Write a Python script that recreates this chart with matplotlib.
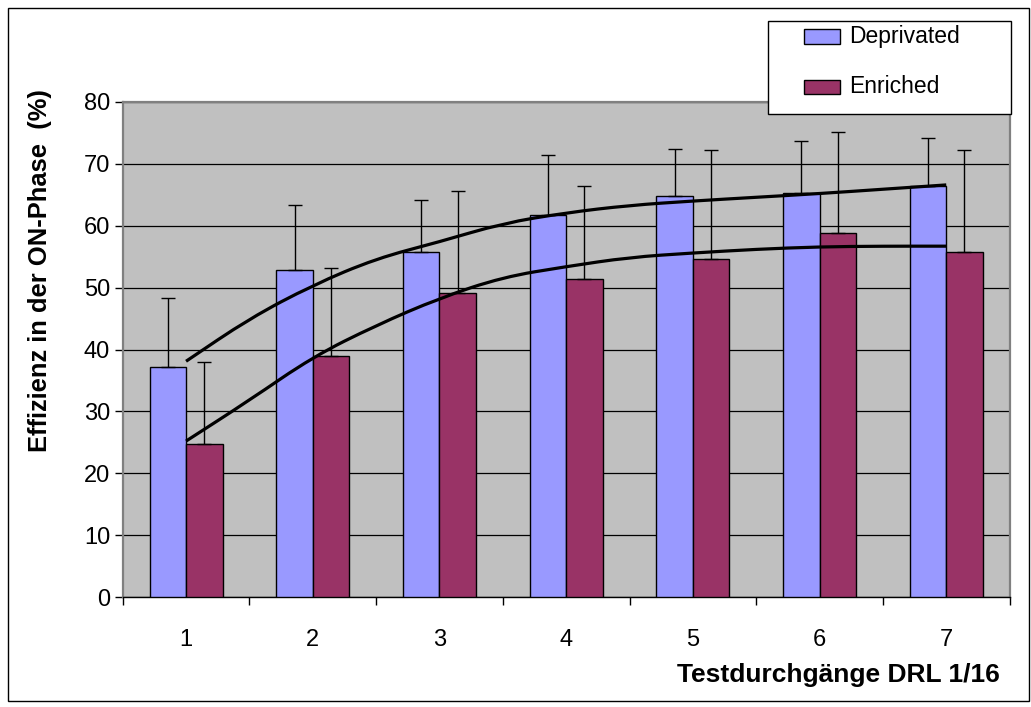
import numpy as np
import matplotlib
matplotlib.use("Agg")
import matplotlib.pyplot as plt
from matplotlib.patches import Rectangle, PathPatch
from matplotlib.path import Path

plt.rcParams['font.family'] = ['Liberation Sans', 'DejaVu Sans']

# ---- data ----
categories = ['1', '2', '3', '4', '5', '6', '7']
deprivated = [37.2, 52.9, 55.7, 61.8, 64.8, 65.3, 66.4]
deprivated_err = [11.2, 10.4, 8.4, 9.7, 7.6, 8.4, 7.8]
enriched = [24.8, 39.0, 49.2, 51.4, 54.7, 58.8, 55.7]
enriched_err = [13.2, 14.2, 16.4, 15.0, 17.5, 16.4, 16.5]
# trend curves at half-category steps (1, 1.5, ..., 7)
trend_x = [1, 1.5, 2, 2.5, 3, 3.5, 4, 4.5, 5, 5.5, 6, 6.5, 7]
trend_dep = [38.1, 45.0, 50.4, 54.7, 57.4, 60.4, 62.1, 63.3, 64.0, 64.6, 65.2, 65.9, 66.6]
trend_enr = [25.2, 31.8, 38.8, 43.9, 48.3, 51.7, 53.4, 54.9, 55.6, 56.2, 56.6, 56.7, 56.7]
yticks = [0, 10, 20, 30, 40, 50, 60, 70, 80]
series_names = ['Deprivated', 'Enriched']
colors = ['#9999FF', '#993366']

W, H = 1031, 707
fig = plt.figure(figsize=(W / 100, H / 100), dpi=100)
fig.patch.set_facecolor('white')

def fx(x):
    return x / W

def fy(y):
    return 1 - y / H

L, R, T, B = 122.7, 1009.6, 102, 597
ax = fig.add_axes([fx(L), fy(B), fx(R - L), (B - T) / H])
ax.set_facecolor('#C0C0C0')

x = np.arange(1, len(categories) + 1)
bw = 0.288
ax.bar(x - bw / 2, deprivated, bw, color=colors[0], edgecolor='black', linewidth=1, zorder=3)
ax.bar(x + bw / 2, enriched, bw, color=colors[1], edgecolor='black', linewidth=1, zorder=3)
ax.errorbar(x - bw / 2, deprivated, yerr=[np.zeros(len(x)), deprivated_err], fmt='none',
            ecolor='black', elinewidth=1, capsize=4.7, capthick=1, zorder=4)
ax.errorbar(x + bw / 2, enriched, yerr=[np.zeros(len(x)), enriched_err], fmt='none',
            ecolor='black', elinewidth=1, capsize=4.7, capthick=1, zorder=4)


def smooth_path(xs, ys):
    pts = list(zip(xs, ys))
    verts = [pts[0]]
    codes = [Path.MOVETO]
    mid = lambda a, b: ((a[0] + b[0]) / 2, (a[1] + b[1]) / 2)
    verts.append(mid(pts[0], pts[1]))
    codes.append(Path.LINETO)
    for i in range(1, len(pts) - 1):
        verts += [pts[i], mid(pts[i], pts[i + 1])]
        codes += [Path.CURVE3, Path.CURVE3]
    verts.append(pts[-1])
    codes.append(Path.LINETO)
    return Path(verts, codes)


for ys in (trend_dep, trend_enr):
    ax.add_patch(PathPatch(smooth_path(trend_x, ys), facecolor='none', edgecolor='black',
                           lw=2.3, zorder=5, capstyle='butt'))

ax.set_xlim(0.5, len(categories) + 0.5)
ax.set_ylim(0, 80)
ax.set_yticks(yticks)
ax.set_yticklabels([str(v) for v in yticks], fontsize=17)
ax.yaxis.grid(True, color='black', linewidth=0.9, zorder=1)
ax.set_axisbelow(True)

ax.set_xticks(np.arange(0.5, len(categories) + 1, 1.0))
ax.set_xticklabels([])
ax.set_xticks(x, minor=True)
ax.set_xticklabels(categories, minor=True, fontsize=17)
ax.tick_params(axis='x', which='major', direction='out', length=6, width=1, color='black')
ax.tick_params(axis='x', which='minor', length=0, pad=23)
ax.tick_params(axis='y', direction='out', length=6, width=1, color='black', pad=3)

for s in ['left', 'top', 'right']:
    ax.spines[s].set_color('#808080')
    ax.spines[s].set_linewidth(1.6)
ax.spines['bottom'].set_color('black')
ax.spines['bottom'].set_linewidth(1)

fig.text(fx(1000), fy(675), 'Testdurchgänge DRL 1/16', ha='right', va='center',
         fontsize=19, fontweight='bold')
fig.text(fx(40), fy(271), 'Effizienz in der ON-Phase  (%)', ha='center', va='center',
         rotation=90, fontsize=18.4, fontweight='bold')

# legend box
lx0, ly0, lx1, ly1 = 767.7, 20.7, 1011.3, 114.3
fig.add_artist(Rectangle((fx(lx0), fy(ly1)), fx(lx1 - lx0), (ly1 - ly0) / H,
                         transform=fig.transFigure, facecolor='white', edgecolor='black',
                         linewidth=1, zorder=10))
for name, col, cy in zip(series_names, colors, [36.7, 86.8]):
    fig.add_artist(Rectangle((fx(804), fy(cy + 7.3)), fx(36), 14.6 / H,
                             transform=fig.transFigure, facecolor=col, edgecolor='black',
                             linewidth=1, zorder=11))
    fig.text(fx(849), fy(cy), name, ha='left', va='center', fontsize=16.5, zorder=12)

# outer frame
fig.add_artist(Rectangle((fx(8), fy(701)), fx(1021), 693 / H, transform=fig.transFigure,
                         facecolor='none', edgecolor='black', linewidth=1, zorder=0))

fig.savefig('out.png', dpi=100)
